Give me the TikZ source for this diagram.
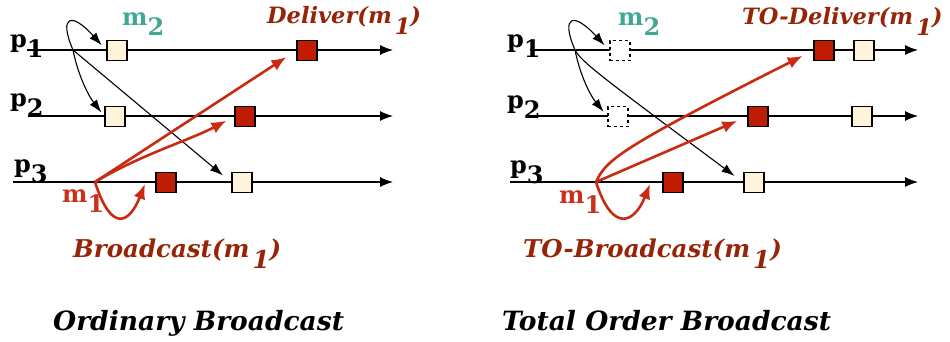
\documentclass[tikz,border=0pt]{standalone}
\usepackage{fontspec}
\setmainfont{DejaVu Serif}
\usetikzlibrary{arrows.meta}
\definecolor{boxred}{RGB}{192,28,4}
\definecolor{arrred}{RGB}{202,42,18}
\definecolor{lblred}{RGB}{150,36,8}
\definecolor{mred}{RGB}{200,50,28}
\definecolor{tealm}{RGB}{64,168,146}
\definecolor{cream}{RGB}{255,243,220}
\newcommand{\lsub}[2][10pt]{\raisebox{-#1}{#2}}
\begin{document}
\begin{tikzpicture}[x=1pt,y=-1pt,
  evbox/.style={draw, line width=1.2pt, minimum size=20pt, inner sep=0pt},
  redbox/.style={evbox, fill=boxred},
  lightbox/.style={evbox, fill=cream},
  ghostbox/.style={evbox, dashed, fill=white},
  procline/.style={line width=1.1pt, -{Latex[length=13pt,width=10pt]}},
  msg/.style={line width=1.1pt, -{Latex[length=13pt,width=9pt]}},
  redmsg/.style={line width=2.6pt, arrred, -{Latex[length=15pt,width=12pt]}},
  plabel/.style={font=\bfseries\fontsize{24}{24}\selectfont, anchor=base west, inner sep=0pt},
  mlabel/.style={font=\bfseries\fontsize{24}{24}\selectfont, anchor=base west, inner sep=0pt},
  oplabel/.style={font=\bfseries\itshape\fontsize{24.5}{24.5}\selectfont, text=lblred, anchor=base west, inner sep=0pt},
  dellabel/.style={oplabel, font=\bfseries\itshape\fontsize{22.5}{22.5}\selectfont},
  title/.style={font=\bfseries\itshape\fontsize{26.5}{26.5}\selectfont, anchor=base west, inner sep=0pt}
]
\useasboundingbox (0,0) rectangle (950,341);

% ---------------- Left panel: Ordinary Broadcast ----------------
\coordinate (L1s) at (27,50);  \coordinate (L1e) at (393,50);
\coordinate (L2s) at (28,116); \coordinate (L2e) at (393,116);
\coordinate (L3s) at (13,182); \coordinate (L3e) at (393,182);
\draw[procline] (L1s) -- (L1e);
\draw[procline] (L2s) -- (L2e);
\draw[procline] (L3s) -- (L3e);

\node[lightbox] (La1) at (117,50.5) {};
\node[redbox]   (Lb1) at (307,50.5) {};
\node[lightbox] (La2) at (115,116.5) {};
\node[redbox]   (Lb2) at (245,116.5) {};
\node[redbox]   (Lb3) at (166,182.5) {};
\node[lightbox] (La3) at (242,182.5) {};

\node[plabel] (Lp1) at (10,47) {p\lsub{1}};
\node[plabel] (Lp2) at (10,106) {p\lsub{2}};
\node[plabel] (Lp3) at (14,172) {p\lsub{3}};

% m2 (black)
\coordinate (Ls) at (73,50);
\draw[msg, shorten >=7pt] (Ls) .. controls (58,15) and (72,12) .. (La1.west);
\draw[msg, shorten >=5pt] (Ls) .. controls (78,75) and (88,95) .. (La2.west);
\draw[msg, shorten >=11pt] (Ls) -- (La3.west);
\node[mlabel, text=tealm] (Lm2) at (122,25) {m\lsub{2}};

% m1 (red)
\coordinate (Lm) at (95,182);
\coordinate (Lt3) at (145,184);
\draw[redmsg, shorten >=12pt] (Lm) -- (Lb1.west);
\draw[redmsg, shorten >=9pt] (Lm) .. controls (140,155) and (190,140) .. (Lb2.west);
\draw[redmsg] (Lm) .. controls (112,235) and (130,222) .. (Lt3);
\node[mlabel, text=mred] (Lm1) at (62,202) {m\lsub{1}};

\node[dellabel] (Ldel) at (267,23) {Deliver(m\kern3pt\lsub[11pt]{1})};
\node[oplabel] (Lbc) at (73,257) {Broadcast(m\kern3pt\lsub[11pt]{1})};
\node[title] (Lt) at (53,330) {Ordinary Broadcast};

% ---------------- Right panel: Total Order Broadcast ----------------
\coordinate (R1s) at (530,50);  \coordinate (R1e) at (918,50);
\coordinate (R2s) at (538,116); \coordinate (R2e) at (918,116);
\coordinate (R3s) at (510,182); \coordinate (R3e) at (918,182);
\draw[procline] (R1s) -- (R1e);
\draw[procline] (R2s) -- (R2e);
\draw[procline] (R3s) -- (R3e);

\node[ghostbox] (Rg1) at (620,50.5) {};
\node[redbox]   (Rb1) at (824,50.5) {};
\node[lightbox] (Ra1) at (864,50.5) {};
\node[ghostbox] (Rg2) at (618,116.5) {};
\node[redbox]   (Rb2) at (758,116.5) {};
\node[lightbox] (Ra2) at (862,116.5) {};
\node[redbox]   (Rb3) at (673,182.5) {};
\node[lightbox] (Ra3) at (754,182.5) {};

\node[plabel] (Rp1) at (507,47) {p\lsub{1}};
\node[plabel] (Rp2) at (507,108) {p\lsub{2}};
\node[plabel] (Rp3) at (510,173) {p\lsub{3}};

% m2 (black)
\coordinate (Rs) at (575,50);
\draw[msg, shorten >=7pt] (Rs) .. controls (560,15) and (574,12) .. (Rg1.west);
\draw[msg, shorten >=6pt] (Rs) .. controls (580,75) and (590,95) .. (Rg2.west);
\draw[msg, shorten >=11pt] (Rs) .. controls (582,62) and (595,72) .. (Ra3.west);
\node[mlabel, text=tealm] (Rm2) at (618,25) {m\lsub{2}};

% m1 (red)
\coordinate (Rm) at (596,182);
\coordinate (Rt3) at (650,184);
\draw[redmsg, shorten >=12pt] (Rm) .. controls (606,160) and (620,148) .. (Rb1.west);
\draw[redmsg, shorten >=11pt] (Rm) -- (Rb2.west);
\draw[redmsg] (Rm) .. controls (613,235) and (635,222) .. (Rt3);
\node[mlabel, text=mred] (Rm1) at (559,203) {m\lsub{1}};

\node[dellabel] (Rdel) at (742,24) {TO-Deliver(m\kern3pt\lsub[11pt]{1})};
\node[oplabel] (Rbc) at (523,257) {TO-Broadcast(m\kern3pt\lsub[11pt]{1})};
\node[title] (Rt) at (502,330) {Total Order Broadcast};
\end{tikzpicture}
\end{document}
